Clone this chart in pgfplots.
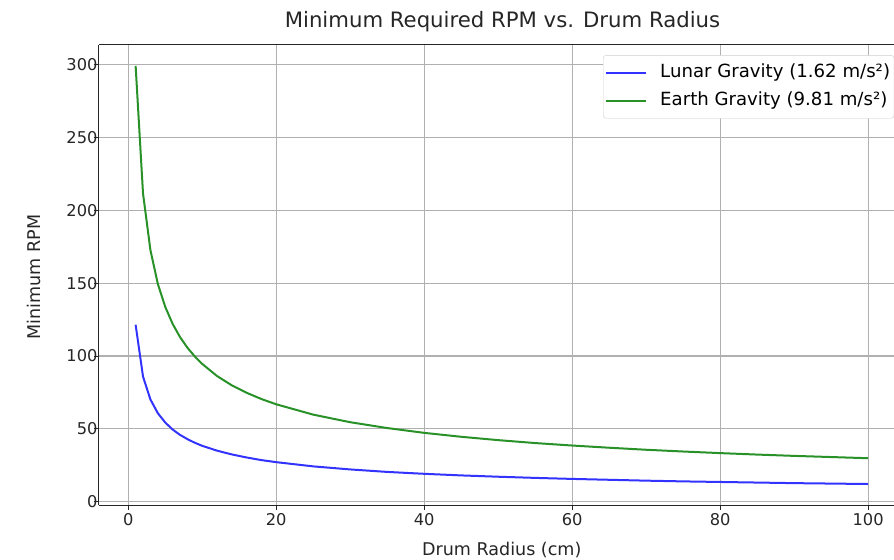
\documentclass[border=0pt]{standalone}
\usepackage{fontspec}
\setmainfont{DejaVu Sans}
\usepackage{pgfplots}
\pgfplotsset{compat=1.18}
\definecolor{lunar}{RGB}{51,51,255}
\definecolor{earth}{RGB}{40,145,40}
\definecolor{gridgray}{RGB}{176,176,176}
\newcommand{\tfont}{\fontsize{16.3}{19}\selectfont}
\newcommand{\lfont}{\fontsize{17.6}{21}\selectfont}

\begin{document}
\begin{tikzpicture}
\begin{axis}[
    name=ax,
    at={(0,0)}, anchor=south west,
    scale only axis,
    width=795bp, height=460bp,
    xmin=-3.95, xmax=103.5,
    ymin=-2.2, ymax=313.4,
    axis x line*=bottom, axis y line*=left,
    axis line style={-, black!85, line width=1bp},
    xtick={0,20,...,100},
    ytick={0,50,...,300},
    tick align=outside,
    major tick length=5bp,
    tick style={black!85, line width=1bp},
    grid=major,
    grid style={gridgray, line width=1.1bp},
    /pgf/number format/assume math mode=true,
    tick label style={font=\tfont, text=black!85},
    yticklabel style={xshift=7bp},
    xlabel={Drum Radius (cm)},
    ylabel={Minimum RPM},
    xlabel style={font=\lfont, text=black!85,
        at={(axis description cs:0.5066,0)}, anchor=base, yshift=-50bp},
    ylabel style={font=\lfont, text=black!85,
        at={(axis description cs:-0.0742,0.496)}, anchor=base},
    title={Minimum Required RPM vs. Drum Radius},
    title style={font=\fontsize{21.3}{25}\selectfont, text=black!85,
        at={(axis description cs:0.5075,1)}, anchor=base, yshift=12bp},
    legend style={at={(0.634,0.978)}, anchor=north west,
        draw=black!20, rounded corners=3bp, font=\fontsize{18.2}{21}\selectfont,
        inner xsep=2bp, inner ysep=6bp, row sep=5bp, column sep=11bp,
        nodes={text height=14bp, text depth=5bp}},
    legend cell align=left,
    legend image code/.code={\draw[#1] (0bp,0bp) -- (40bp,0bp);},
]

% lunar gravity, g = 1.62
\addplot[lunar, line width=2bp] coordinates {
    (1,121.5) (2,85.9) (3,70.2) (4,60.8) (5,54.4) (6,49.6) (7,45.9)
    (8,43.0) (9,40.5) (10,38.4) (12,35.1) (14,32.5) (16,30.4) (18,28.6)
    (20,27.2) (25,24.3) (30,22.2) (35,20.5) (40,19.2) (45,18.1) (50,17.2)
    (55,16.4) (60,15.7) (65,15.1) (70,14.5) (75,14.0) (80,13.6) (85,13.2)
    (90,12.8) (95,12.5) (100,12.2)
};
\addlegendentry{Lunar Gravity (1.62 m/s²)}

% earth gravity, g = 9.81
\addplot[earth, line width=2bp] coordinates {
    (1,299.1) (2,211.5) (3,172.7) (4,149.5) (5,133.8) (6,122.1) (7,113.0)
    (8,105.7) (9,99.7) (10,94.6) (12,86.3) (14,79.9) (16,74.8) (18,70.5)
    (20,66.9) (25,59.8) (30,54.6) (35,50.6) (40,47.3) (45,44.6) (50,42.3)
    (55,40.3) (60,38.6) (65,37.1) (70,35.7) (75,34.5) (80,33.4) (85,32.4)
    (90,31.5) (95,30.7) (100,29.9)
};
\addlegendentry{Earth Gravity (9.81 m/s²)}

\draw[black!85, line width=1bp] (rel axis cs:0,1) -- (rel axis cs:1,1);
\end{axis}
\pgfresetboundingbox
\path[use as bounding box] (-99bp,-55bp) rectangle (795bp,505bp);
\end{tikzpicture}
\end{document}
